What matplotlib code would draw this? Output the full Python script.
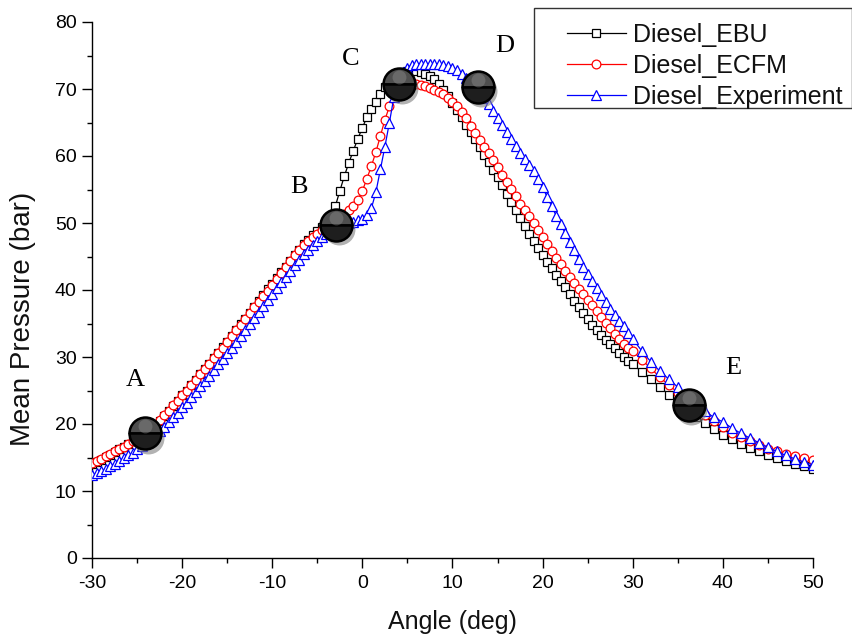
import numpy as np
import matplotlib
matplotlib.use("Agg")
import matplotlib.pyplot as plt
import matplotlib.transforms as mtransforms
from matplotlib.patches import Rectangle
from matplotlib.ticker import MultipleLocator

# ---------------- data ----------------
angle = np.concatenate([np.arange(-30, 30, 0.5), np.arange(30, 51, 1.0)])

ebu = [
    14.1, 14.4, 14.7, 15.1, 15.4, 15.8, 16.2, 16.6, 17.0, 17.4, 17.8, 18.3, 18.8, 19.3, 19.9, 20.5, 21.2, 21.9, 22.7, 23.5,
    24.3, 25.0, 25.8, 26.6, 27.4, 28.2, 29.0, 29.8, 30.6, 31.5, 32.3, 33.2, 34.0, 34.9, 35.7, 36.6, 37.5, 38.3, 39.2, 40.1,
    40.9, 41.8, 42.7, 43.5, 44.4, 45.2, 46.0, 46.8, 47.5, 48.2, 48.8, 49.4, 50.0, 51.0, 52.5, 54.8, 57.0, 59.0, 60.8, 62.6,
    64.2, 65.8, 67.0, 68.1, 69.3, 70.3, 71.0, 71.6, 72.1, 72.5, 72.7, 72.8, 72.7, 72.5, 72.3, 72.0, 71.5, 70.8, 69.9, 68.9,
    67.9, 66.9, 65.8, 64.7, 63.6, 62.5, 61.3, 60.2, 59.1, 57.9, 56.8, 55.6, 54.4, 53.1, 51.9, 50.7, 49.6, 48.4, 47.3, 46.2,
    45.2, 44.2, 43.3, 42.3, 41.4, 40.4, 39.4, 38.4, 37.4, 36.5, 35.6, 34.8, 34.0, 33.3, 32.6, 31.9, 31.3, 30.6, 30.0, 29.4,
    28.9, 27.8, 26.7, 25.5, 24.4, 23.3, 22.2, 21.1, 20.1, 19.2, 18.4, 17.7, 17.0, 16.4, 15.9, 15.3, 14.9, 14.5, 14.1, 13.7, 13.3,
]

ecfm = [
    14.2, 14.5, 14.8, 15.2, 15.5, 15.9, 16.2, 16.6, 17.0, 17.4, 17.8, 18.3, 18.8, 19.3, 19.9, 20.6, 21.3, 22.0, 22.8, 23.5,
    24.3, 25.0, 25.8, 26.6, 27.4, 28.2, 29.0, 29.8, 30.6, 31.4, 32.3, 33.1, 34.0, 34.8, 35.7, 36.5, 37.4, 38.2, 39.1, 39.9,
    40.8, 41.7, 42.6, 43.5, 44.4, 45.2, 46.0, 46.7, 47.3, 47.9, 48.4, 48.9, 49.4, 49.9, 50.3, 50.8, 51.3, 51.9, 52.5, 53.4,
    54.8, 56.6, 58.5, 60.6, 63.0, 65.4, 67.4, 69.1, 70.1, 70.6, 70.8, 70.8, 70.7, 70.6, 70.4, 70.2, 69.9, 69.6, 69.2, 68.7,
    68.1, 67.4, 66.5, 65.6, 64.5, 63.5, 62.4, 61.4, 60.4, 59.4, 58.3, 57.2, 56.1, 55.1, 54.0, 52.9, 51.9, 51.0, 50.0, 48.9,
    47.9, 46.8, 45.8, 44.8, 43.9, 42.9, 42.0, 41.1, 40.2, 39.4, 38.5, 37.7, 36.8, 35.9, 35.1, 34.3, 33.5, 32.7, 32.0, 31.4,
    30.9, 29.6, 28.3, 27.0, 25.8, 24.7, 23.6, 22.4, 21.4, 20.4, 19.5, 18.7, 18.0, 17.4, 16.8, 16.3, 15.9, 15.5, 15.2, 14.9, 14.6,
]

experiment = [
    12.4, 12.7, 13.0, 13.3, 13.7, 14.1, 14.5, 14.9, 15.3, 15.7, 16.2, 16.7, 17.2, 17.7, 18.3, 18.9, 19.6, 20.3, 21.0, 21.7,
    22.5, 23.2, 24.0, 24.8, 25.6, 26.4, 27.2, 28.0, 28.9, 29.7, 30.6, 31.4, 32.3, 33.1, 34.0, 34.9, 35.8, 36.7, 37.6, 38.5,
    39.4, 40.3, 41.2, 42.0, 42.9, 43.7, 44.5, 45.3, 46.0, 46.7, 47.3, 47.9, 48.4, 48.8, 49.2, 49.5, 49.8, 50.0, 50.2, 50.4,
    50.6, 51.2, 52.2, 54.6, 58.0, 61.4, 65.0, 68.8, 71.3, 72.6, 73.2, 73.6, 73.7, 73.8, 73.8, 73.8, 73.8, 73.7, 73.6, 73.4,
    73.2, 72.8, 72.3, 71.7, 71.0, 70.3, 69.5, 68.6, 67.7, 66.7, 65.7, 64.7, 63.6, 62.5, 61.5, 60.5, 59.5, 58.6, 57.7, 56.6,
    55.3, 53.9, 52.5, 51.1, 49.8, 48.5, 47.2, 45.9, 44.6, 43.5, 42.4, 41.3, 40.3, 39.2, 38.2, 37.2, 36.3, 35.4, 34.6, 33.6,
    32.7, 30.9, 29.3, 27.9, 26.7, 25.5, 24.2, 22.9, 21.9, 21.0, 20.3, 19.4, 18.6, 17.9, 17.2, 16.5, 15.9, 15.3, 14.8, 14.3, 13.9,
]

series_names = ["Diesel_EBU", "Diesel_ECFM", "Diesel_Experiment"]

# highlighted stage points (balls) and their letters
stage_labels = ["A", "B", "C", "D", "E"]
stage_x = [-24.1, -2.9, 4.1, 12.8, 36.2]
stage_y = [18.6, 49.7, 70.7, 70.3, 22.8]
letter_x = [-25.2, -7.0, -1.3, 15.8, 41.1]
letter_y = [26.6, 55.4, 74.5, 76.4, 28.4]

x_ticks = [-30, -20, -10, 0, 10, 20, 30, 40, 50]
y_ticks = [0, 10, 20, 30, 40, 50, 60, 70, 80]

assert len(angle) == len(ebu) == len(ecfm) == len(experiment)

# ---------------- figure ----------------
plt.rcParams['font.family'] = ['Liberation Sans', 'DejaVu Sans']
plt.rcParams['axes.unicode_minus'] = False
W, H = 853, 641
fig = plt.figure(figsize=(W / 100, H / 100), dpi=100)
ax = fig.add_axes([92 / W, 1 - 558 / H, (813 - 92) / W, (558 - 22) / H])

styles = [
    dict(color="black", marker="s", ms=5.2),
    dict(color="red", marker="o", ms=6.3),
    dict(color="blue", marker="^", ms=7.2),
]
for name, vals, st in zip(series_names, [ebu, ecfm, experiment], styles):
    ax.plot(angle, vals, color=st["color"], lw=0.9, marker=st["marker"],
            ms=st["ms"], mfc="white", mec=st["color"], mew=0.9, label=name,
            zorder=3)

# stage balls (shadow + two-tone sphere)
shadow_tr = mtransforms.offset_copy(ax.transData, fig=fig, x=2.0, y=-3.0, units='points')
ax.plot(stage_x, stage_y, ls="none", marker="o", ms=23, mfc="#808080", mec="none",
        alpha=0.6, transform=shadow_tr, zorder=5)
ax.plot(stage_x, stage_y, ls="none", marker="o", ms=23, fillstyle="top",
        mfc="#4e4e4e", mfcalt="#1e1e1e", mec="black", mew=1.8, zorder=6)
hl_tr = mtransforms.offset_copy(ax.transData, fig=fig, x=0, y=5.0, units='points')
ax.plot(stage_x, stage_y, ls="none", marker="o", ms=10, mfc="#8a8a8a", mec="none",
        alpha=0.45, transform=hl_tr, zorder=7)
for lab, lx, ly in zip(stage_labels, letter_x, letter_y):
    ax.text(lx, ly, lab, fontsize=19, family=["Liberation Serif", "DejaVu Serif"],
            ha="center", va="center", color="black", zorder=8)

ax.set_xlim(-30, 50)
ax.set_ylim(0, 80)
ax.set_xticks(x_ticks)
ax.set_yticks(y_ticks)
ax.xaxis.set_minor_locator(MultipleLocator(5))
ax.yaxis.set_minor_locator(MultipleLocator(5))
ax.tick_params(which="major", direction="out", length=7.5, width=1.0, labelsize=14,
               pad=3.5, colors="black")
ax.tick_params(which="minor", direction="out", length=3.8, width=1.0)
ax.tick_params(axis="x", which="major", pad=4.5)
for s in ["top", "right"]:
    ax.spines[s].set_visible(False)
for s in ["left", "bottom"]:
    ax.spines[s].set_linewidth(1.0)
    ax.spines[s].set_color("black")
ax.patch.set_alpha(0)

ax.set_xlabel("Angle (deg)", fontsize=18, color="#111111")
ax.set_ylabel("Mean Pressure (bar)", fontsize=20, color="#111111")
ax.xaxis.set_label_coords(0.5, -0.097)
ax.yaxis.set_label_coords(-0.077, 0.447)

# legend (frame drawn manually)
leg = fig.legend(loc="upper left", bbox_to_anchor=(567 / W, 1 - 23 / H),
                 frameon=False, fontsize=18, handlelength=2.35, handletextpad=0.3,
                 labelspacing=0.28, borderpad=0, borderaxespad=0)
for t in leg.get_texts():
    t.set_color("#111111")
fig.patches.append(Rectangle((534 / W, 1 - 108 / H), (852 - 534) / W, 100 / H,
                             transform=fig.transFigure, fill=False,
                             edgecolor="#333333", lw=1.0))

fig.savefig("out.png", dpi=100)
